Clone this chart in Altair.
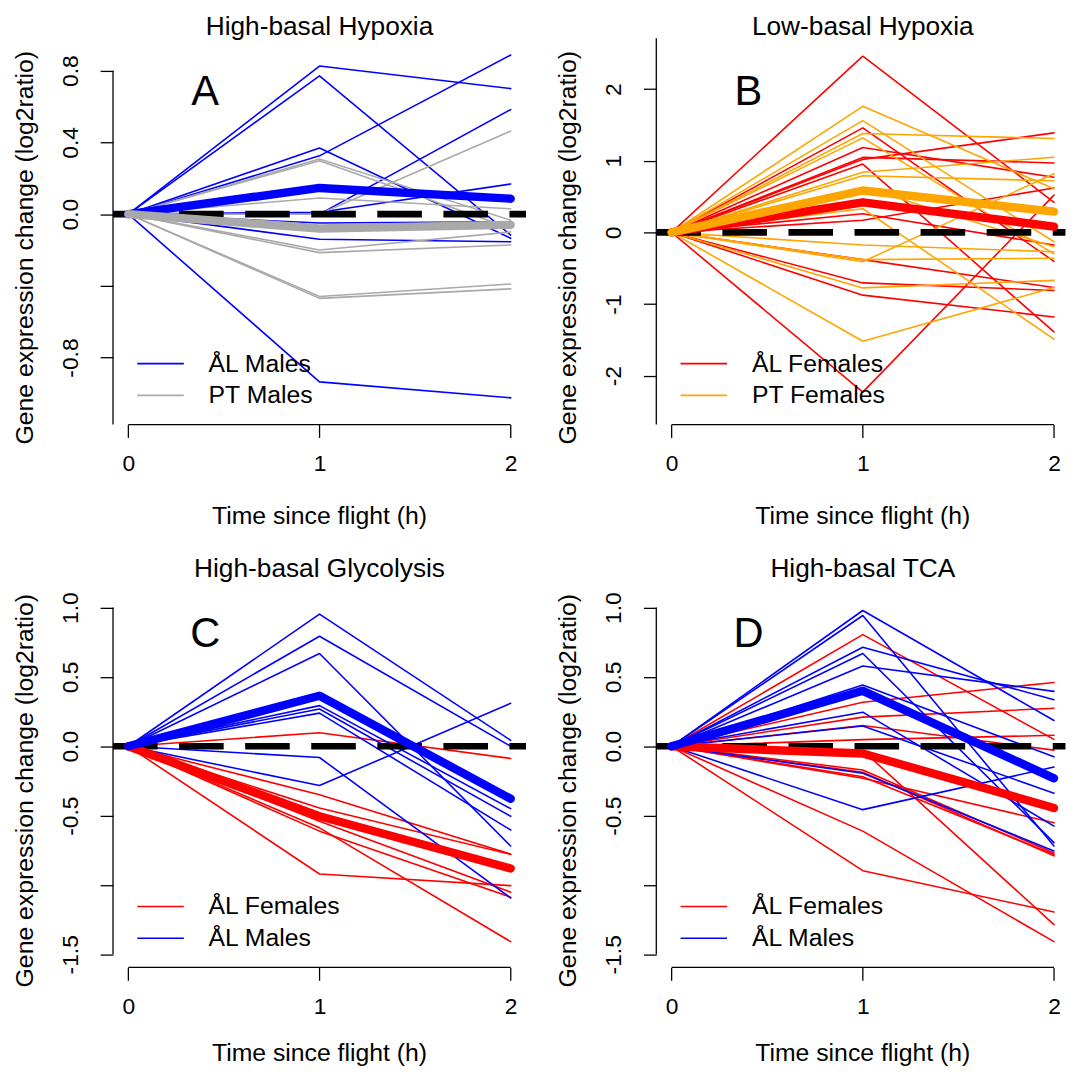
import altair as alt
import pandas as pd

FONT = "Liberation Sans"

# ---------------- data ----------------
times = [0, 1, 2]

# Panel A: High-basal Hypoxia
A_groups = ["ÅL Males", "PT Males"]
A_colors = ["#0000FF", "#A9A9A9"]
A_g1_t1 = [0.826, 0.771, 0.369, 0.325, 0.0, 0.01, -0.05, -0.14, -0.936]
A_g1_t2 = [0.70, -0.117, -0.135, 0.887, 0.583, 0.168, -0.043, -0.154, -1.025]
A_g1_mean = [0.146, 0.086]
A_g2_t1 = [0.0, 0.307, 0.298, 0.09, -0.2, -0.215, -0.46, -0.47]
A_g2_t2 = [0.463, -0.034, -0.08, 0.03, -0.1, -0.172, -0.39, -0.417]
A_g2_mean = [-0.08, -0.06]

# Panel B: Low-basal Hypoxia
B_groups = ["ÅL Females", "PT Females"]
B_colors = ["#FF0000", "#FFA500"]
B_g1_t1 = [2.46, 1.46, 1.185, 1.047, 1.02, 0.954, 0.26, 0.17, -0.38, -0.705, -0.876, -2.23]
B_g1_t2 = [0.42, -0.405, 0.77, 0.97, 1.39, -1.39, -0.175, 0.62, -0.77, -0.81, -1.18, 0.52]
B_g1_mean = [0.42, 0.08]
B_g2_t1 = [1.76, 1.56, 1.38, 1.32, 0.84, 0.79, 0.63, 0.33, -0.175, -0.38, -0.41, -0.775, -1.52]
B_g2_t2 = [0.61, -0.13, 1.31, -0.3, 1.05, 0.72, -0.2, -1.49, -0.27, -0.36, 0.82, -0.67, -0.77]
B_g2_mean = [0.585, 0.29]

# Panel C: High-basal Glycolysis
C_groups = ["ÅL Females", "ÅL Males"]
C_colors = ["#FF0000", "#0000FF"]
C_g1_t1 = [0.098, -0.35, -0.445, -0.54, -0.588, -0.612, -0.921]
C_g1_t2 = [-0.088, -0.778, -0.78, -1.052, -1.409, -1.088, -1.005]
C_g1_mean = [-0.505, -0.881]
C_g2_t1 = [0.953, 0.793, 0.669, 0.293, 0.269, 0.239, -0.081, -0.283]
C_g2_t2 = [0.043, 0.0, -0.719, -0.45, -0.505, -0.604, -1.095, 0.31]
C_g2_mean = [0.364, -0.379]

# Panel D: High-basal TCA
D_groups = ["ÅL Females", "ÅL Males"]
D_colors = ["#FF0000", "#0000FF"]
D_g1_t1 = [0.805, 0.317, 0.21, 0.15, 0.048, -0.03, -0.171, -0.188, -0.22, -0.23, -0.612, -0.897]
D_g1_t2 = [0.05, 0.46, 0.274, -0.028, 0.079, -1.286, -0.77, -0.79, -0.78, -0.552, -1.409, -1.195]
D_g1_mean = [-0.052, -0.445]
D_g2_t1 = [0.979, 0.943, 0.714, 0.669, 0.579, 0.441, 0.246, 0.146, -0.195, -0.457]
D_g2_t2 = [0.186, -0.719, 0.336, -0.695, 0.396, -0.076, -0.576, -0.338, -0.755, -0.15]
D_g2_mean = [0.4, -0.231]

# axis ticks
A_yticks = [-0.8, -0.4, 0.0, 0.4, 0.8]
B_yticks = [-2, -1, 0, 1, 2]
CD_yticks = [-1.5, -1.0, -0.5, 0.0, 0.5, 1.0]
x_ticks = [0, 1, 2]

X_LABEL = "Time since flight (h)"
Y_LABEL = "Gene expression change (log2ratio)"

XMIN = -0.08
PX_PER_X = 193.0
H = 390.0


def lines_df(t1, t2, group):
    rows = []
    for i, (a, b) in enumerate(zip(t1, t2)):
        for t, v in zip(times, [0.0, a, b]):
            rows.append({"t": t, "v": v, "group": group, "id": f"{group}_{i}"})
    return pd.DataFrame(rows)


def mean_df(m, group):
    return pd.DataFrame({"t": times, "v": [0.0] + list(m), "group": group,
                         "id": group + "_mean"})


def label(text, x, y, size, angle=0):
    return alt.Chart(pd.DataFrame({"a": [0]})).mark_text(
        text=text, font=FONT, fontSize=size, align="center",
        baseline="alphabetic", angle=angle, color="black"
    ).encode(x=alt.value(x), y=alt.value(y))


def panel(title, letter, groups, colors, g1, g2, m1, m2, ydomain, yticks,
          label_expr, yline_top, yline_bot, xmax, xtitle_y):
    width = (xmax - XMIN) * PX_PER_X
    height = H
    xs = alt.Scale(domain=[XMIN, xmax], nice=False, zero=False)
    ys = alt.Scale(domain=ydomain, nice=False, zero=False)
    cs = alt.Scale(domain=groups, range=colors)
    leg = alt.Legend(orient="none", legendX=23.5, legendY=316, title=None,
                     symbolType="stroke", symbolSize=2209, symbolStrokeWidth=1.6,
                     labelFontSize=25, labelFont=FONT, labelOffset=24,
                     labelColor="black", rowPadding=6, padding=0, clipHeight=25)
    xaxis = alt.Axis(values=x_ticks, title=None, format="d", grid=False,
                     domain=False, tickSize=13, tickWidth=1.3, tickColor="black",
                     labelFontSize=23, labelFont=FONT, labelColor="black",
                     labelPadding=15, labelFlush=False, labelOverlap=False)
    yaxis = alt.Axis(values=yticks, title=None, labelExpr=label_expr, grid=False,
                     domain=False, tickSize=13, tickWidth=1.3, tickColor="black",
                     labelFontSize=23, labelFont=FONT, labelColor="black",
                     labelAngle=270, labelAlign="center", labelBaseline="bottom",
                     labelPadding=18, labelOverlap=False)

    def line_layer(df, sw):
        return alt.Chart(df).mark_line(strokeWidth=sw, strokeCap="round",
                                       strokeJoin="round").encode(
            x=alt.X("t:Q", scale=xs, axis=xaxis),
            y=alt.Y("v:Q", scale=ys, axis=yaxis),
            color=alt.Color("group:N", scale=cs, legend=leg),
            detail="id:N",
        )

    thin1 = line_layer(lines_df(g1[0], g1[1], groups[0]), 1.6)
    thin2 = line_layer(lines_df(g2[0], g2[1], groups[1]), 1.6)
    mean1 = line_layer(mean_df(m1, groups[0]), 8.5)
    mean2 = line_layer(mean_df(m2, groups[1]), 8.5)

    zero = alt.Chart(pd.DataFrame({"v": [0.0]})).mark_rule(
        color="black", strokeWidth=6.7, strokeDash=[45, 21.7], strokeCap="butt"
    ).encode(y=alt.Y("v:Q", scale=ys, axis=yaxis), x=alt.value(0), x2=alt.value(width))

    yline = alt.Chart(pd.DataFrame({"v": [yline_top], "b": [yline_bot]})).mark_rule(
        color="black", strokeWidth=1.3
    ).encode(y=alt.Y("v:Q", scale=ys, axis=yaxis), y2="b:Q", x=alt.value(0))

    xline = alt.Chart(pd.DataFrame({"t": [x_ticks[0]], "b": [x_ticks[-1]]})).mark_rule(
        color="black", strokeWidth=1.3
    ).encode(x=alt.X("t:Q", scale=xs, axis=xaxis), x2="b:Q", y=alt.value(height))

    x_mid = (1 - XMIN) * PX_PER_X
    lett = label(letter, 93, 67, 42)
    ttl = label(title, x_mid, -3.7, 26.5)
    xttl = label(X_LABEL, x_mid, xtitle_y, 25)
    yttl = label(Y_LABEL, -80.6, 211.5, 25, angle=270)

    return alt.layer(thin1, thin2, zero, mean1, mean2, yline, xline,
                     lett, ttl, xttl, yttl).properties(width=width, height=height)


def dec_expr(skip):
    return ("abs(datum.value - (%s)) < 1e-6 ? '' : replace(format(datum.value, '.1f'), '\u2212', '-')"
            % skip)


int_expr = "replace(format(datum.value, 'd'), '\u2212', '-')"

pA = panel("High-basal Hypoxia", "A", A_groups, A_colors,
           (A_g1_t1, A_g1_t2), (A_g2_t1, A_g2_t2), A_g1_mean, A_g2_mean,
           [-1.174, 0.981], A_yticks, dec_expr(-0.4), 0.8, -1.174, 2.08, H + 100)
pB = panel("Low-basal Hypoxia", "B", B_groups, B_colors,
           (B_g1_t1, B_g1_t2), (B_g2_t1, B_g2_t2), B_g1_mean, B_g2_mean,
           [-2.683, 2.711], B_yticks, int_expr, 2.711, -2.683, 2.06, H + 100)
pC = panel("High-basal Glycolysis", "C", C_groups, C_colors,
           (C_g1_t1, C_g1_t2), (C_g2_t1, C_g2_t2), C_g1_mean, C_g2_mean,
           [-1.595, 1.191], CD_yticks, dec_expr(-1.0), 1.0, -1.5, 2.08, H + 94)
pD = panel("High-basal TCA", "D", D_groups, D_colors,
           (D_g1_t1, D_g1_t2), (D_g2_t1, D_g2_t2), D_g1_mean, D_g2_mean,
           [-1.595, 1.191], CD_yticks, dec_expr(-1.0), 1.0, -1.5, 2.06, H + 94)

chart = alt.concat(
    pA, pB, pC, pD, columns=2, spacing={"row": 158, "column": 131.4},
    bounds="flush", align="each"
).resolve_scale(
    x="independent", y="independent", color="independent"
).resolve_legend(color="independent").resolve_axis(
    x="independent", y="independent"
).properties(
    padding={"left": 5, "top": 0.5, "right": 0, "bottom": 0}
).configure_view(strokeWidth=0, strokeOpacity=0).configure_axis(
    grid=False, domain=False
)

chart.save("out.html", embed_options={"renderer": "svg", "actions": False})
